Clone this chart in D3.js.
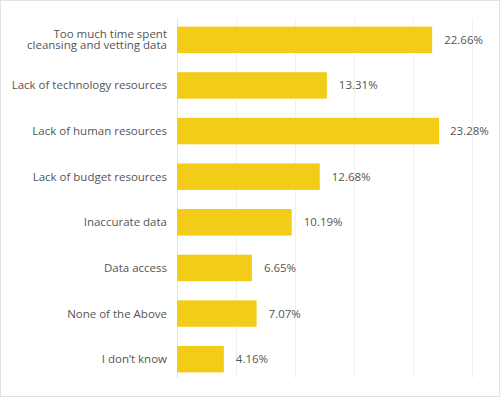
<!DOCTYPE html>
<html>
<head>
<meta charset="utf-8">
<script src="https://cdn.jsdelivr.net/npm/d3@7"></script>
<style>
  body { margin: 0; background: #fff; }
  svg { display: block; font-family: "Open Sans", sans-serif; }
</style>
</head>
<body>
<div class="chart"></div>
<script>
var categories = [
  ["Too much time spent", "cleansing and vetting data"],
  ["Lack of technology resources"],
  ["Lack of human resources"],
  ["Lack of budget resources"],
  ["Inaccurate data"],
  ["Data access"],
  ["None of the Above"],
  ["I don\u2019t know"]
];
var values = [22.66, 13.31, 23.28, 12.68, 10.19, 6.65, 7.07, 4.16];
var valueLabels = ["22.66%", "13.31%", "23.28%", "12.68%", "10.19%", "6.65%", "7.07%", "4.16%"];
var gridValues = [0, 5.24, 10.48, 15.72, 20.96, 26.2];

var w = 500;
var h = 399;
var lineH = 11;

var svg = d3.select(".chart")
            .append("svg")
            .attr("width", w)
            .attr("height", h);

// light frame around the picture
svg.append("rect")
   .attr("x", 0.5).attr("y", 0.5)
   .attr("width", w - 1).attr("height", h - 3)
   .attr("fill", "none")
   .attr("stroke", "#e2e2e2");

var x = d3.scaleLinear().domain([0, 26.2]).range([177, 472]);
var y = d3.scaleBand()
          .domain(d3.range(values.length))
          .range([17, 382])
          .paddingInner(0.42)
          .paddingOuter(0.21);

svg.selectAll("line.grid")
   .data(gridValues)
   .enter()
   .append("line")
   .attr("class", "grid")
   .attr("x1", function(d) { return Math.round(x(d)) + 0.5; })
   .attr("x2", function(d) { return Math.round(x(d)) + 0.5; })
   .attr("y1", 18)
   .attr("y2", 378)
   .attr("stroke", function(d, i) { return i === 0 ? "#e4e4e4" : "#f0f0f0"; });

svg.selectAll("rect.bar")
   .data(values)
   .enter()
   .append("rect")
   .attr("class", "bar")
   .attr("x", x(0))
   .attr("y", function(d, i) { return y(i); })
   .attr("width", function(d) { return x(d) - x(0); })
   .attr("height", y.bandwidth())
   .attr("fill", "#f2cc17");

svg.selectAll("text.value")
   .data(values)
   .enter()
   .append("text")
   .attr("class", "value")
   .text(function(d, i) { return valueLabels[i]; })
   .attr("x", function(d) { return Math.min(x(d) + 12, 450); })
   .attr("y", function(d, i) { return y(i) + y.bandwidth() / 2; })
   .attr("dy", "0.35em")
   .attr("font-size", "11.5px")
   .attr("fill", "#555");

var cats = svg.selectAll("text.cat")
   .data(categories)
   .enter()
   .append("text")
   .attr("class", "cat")
   .attr("text-anchor", "end")
   .attr("font-size", "11.5px")
   .attr("fill", "#555")
   .attr("y", function(d, i) {
     return y(i) + y.bandwidth() / 2 + 4 - (d.length - 1) * lineH / 2;
   });

cats.selectAll("tspan")
    .data(function(d) { return d; })
    .enter()
    .append("tspan")
    .attr("x", 167)
    .attr("dy", function(d, j) { return j === 0 ? 0 : lineH; })
    .text(function(d) { return d; });
</script>
</body>
</html>
